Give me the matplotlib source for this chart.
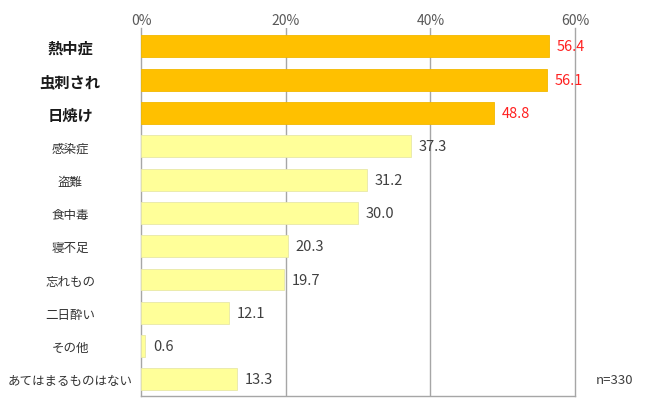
import matplotlib
matplotlib.use("Agg")
import matplotlib.pyplot as plt
from matplotlib.ticker import FuncFormatter

plt.rcParams['font.family'] = ['Noto Sans CJK JP', 'DejaVu Sans']

categories = ["熱中症", "虫刺され", "日焼け", "感染症", "盗難", "食中毒", "寝不足",
              "忘れもの", "二日酔い", "その他", "あてはまるものはない"]
values = [56.4, 56.1, 48.8, 37.3, 31.2, 30.0, 20.3, 19.7, 12.1, 0.6, 13.3]
highlight = [True, True, True, False, False, False, False, False, False, False, False]
xticks = [0, 20, 40, 60]
n_label = "n=330"

fig = plt.figure(figsize=(6.5, 4.06), dpi=100)
ax = fig.add_axes([0.217, 0.022, 0.6676, 0.9064])

grid_c = "#A6A6A6"
for i, (c, v, h) in enumerate(zip(categories, values, highlight)):
    if h:
        ax.barh(i, v, height=0.66, color="#FFC000", edgecolor="#F2B800", linewidth=0.6, zorder=3)
        ax.text(v + 1.1, i, f"{v:.1f}", va="center", ha="left", color="#FF2020", fontsize=10.5, zorder=4)
    else:
        ax.barh(i, v, height=0.66, color="#FFFF99", edgecolor="#E8E8A8", linewidth=0.6, zorder=3)
        ax.text(v + 1.1, i, f"{v:.1f}", va="center", ha="left", color="#404040", fontsize=10.5, zorder=4)

ax.set_xlim(0, 60)
ax.set_ylim(10.5, -0.55)
ax.set_xticks(xticks)
ax.xaxis.set_major_formatter(FuncFormatter(lambda x, p: f"{int(x)}%"))
ax.xaxis.tick_top()
ax.tick_params(axis='x', length=0, pad=1, labelsize=10, labelcolor="#595959")
ax.set_yticks(range(len(categories)))
ax.set_yticklabels(categories)
ax.tick_params(axis='y', length=0, pad=51)
for lbl, h in zip(ax.get_yticklabels(), highlight):
    lbl.set_horizontalalignment("center")
    if h:
        lbl.set_fontweight("bold")
        lbl.set_fontsize(11)
        lbl.set_color("#1a1a1a")
    else:
        lbl.set_fontsize(9)
        lbl.set_color("#333333")

for x in xticks[1:-1]:
    ax.axvline(x, color=grid_c, linewidth=1.0, zorder=1)
for s in ["left", "right", "bottom"]:
    ax.spines[s].set_color(grid_c)
    ax.spines[s].set_linewidth(1.0)
ax.spines["top"].set_visible(False)

fig.text(596/650, 1 - 381/406, n_label, ha="left", va="center", fontsize=9.5, color="#404040")

fig.savefig("out.png", dpi=100)
